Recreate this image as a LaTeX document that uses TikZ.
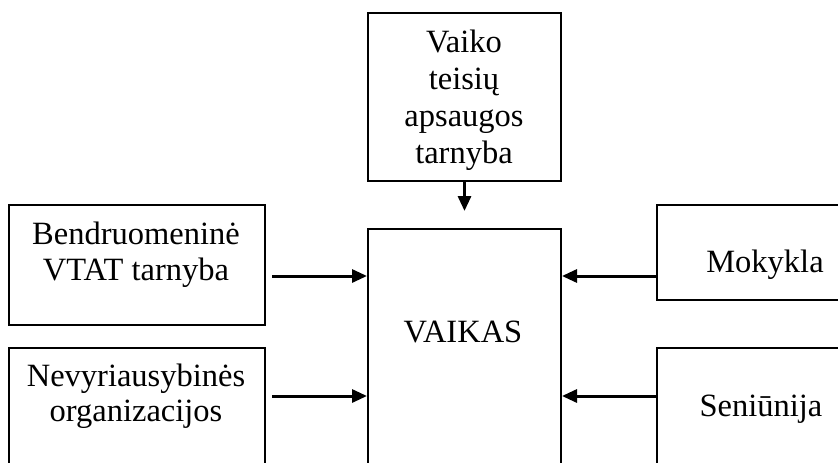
\documentclass[tikz,border=0pt]{standalone}
\usepackage{fontspec}
\setmainfont{Liberation Serif}
\usetikzlibrary{arrows.meta}
\begin{document}
\begin{tikzpicture}[x=1pt,y=-1pt,
  box/.style={draw,line width=2pt,inner sep=0pt,anchor=north west},
  lbl/.style={anchor=base,inner sep=0pt,font=\fontsize{32.5}{37}\selectfont},
  arr/.style={line width=3pt,-{Triangle[length=15pt,width=13pt]}}]
\useasboundingbox (0,0) rectangle (838,463);
\clip (0,0) rectangle (838,463);
% boxes
\node[box,minimum width=193pt,minimum height=168pt] (top) at (367,12) {};
\node[box,minimum width=193pt,minimum height=300pt] (vaikas) at (367,228) {};
\node[box,minimum width=256pt,minimum height=120pt] (lbt) at (8,204) {};
\node[box,minimum width=256pt,minimum height=200pt] (lbb) at (8,347) {};
\node[box,minimum width=240pt,minimum height=95pt] (rt) at (656,204) {};
\node[box,minimum width=240pt,minimum height=200pt] (rb) at (656,347) {};
% labels
\node[lbl] (t1) at (464,52) {Vaiko};
\node[lbl] (t2) at (464,89) {teisių};
\node[lbl] (t3) at (464,126) {apsaugos};
\node[lbl] (t4) at (464,163) {tarnyba};
\node[lbl] (v1) at (463,342) {VAIKAS};
\node[lbl] (b1) at (136,244) {Bendruomeninė};
\node[lbl] (b2) at (136,280) {VTAT tarnyba};
\node[lbl] (n1) at (136,386) {Nevyriausybinės};
\node[lbl] (n2) at (136,421) {organizacijos};
\node[lbl] (m1) at (765,272) {Mokykla};
\node[lbl] (s1) at (761,416) {Seniūnija};
% connectors
\coordinate (ytop) at (0,211);
\coordinate (y1) at (0,276);
\coordinate (y2) at (0,396);
\coordinate (ls1) at (272,276);
\coordinate (ls2) at (272,396);
\draw[arr] (top.south) -- (top.south |- ytop);
\draw[arr] (ls1) -- (vaikas.west |- y1);
\draw[arr] (ls2) -- (vaikas.west |- y2);
\draw[arr] (rt.west |- y1) -- (vaikas.east |- y1);
\draw[arr] (rb.west |- y2) -- (vaikas.east |- y2);
\end{tikzpicture}
\end{document}
